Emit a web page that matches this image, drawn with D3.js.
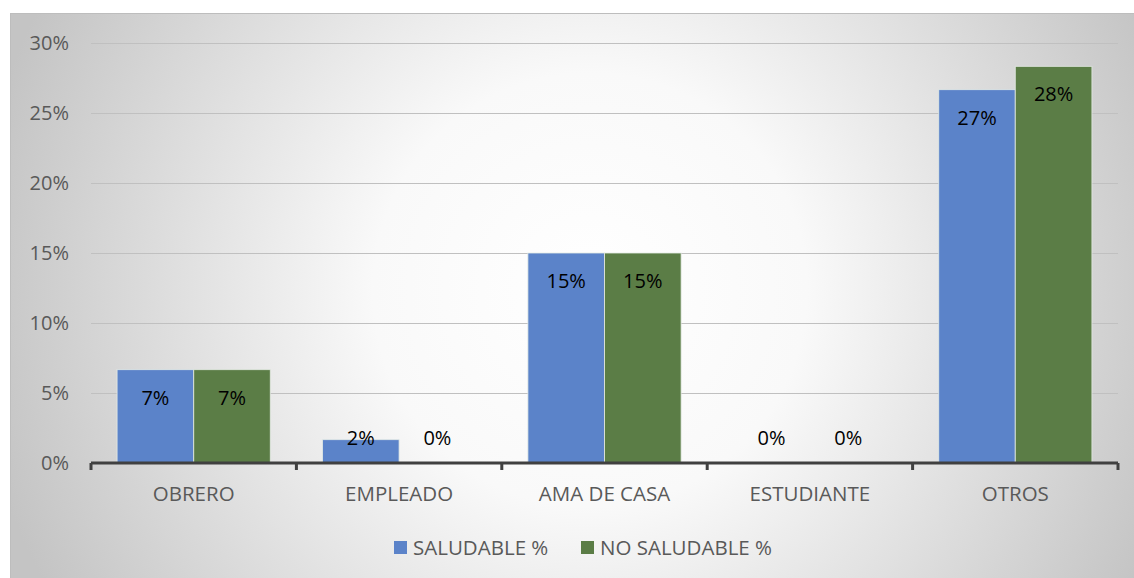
<!DOCTYPE html>
<html><head><meta charset="utf-8">
<script src="https://cdn.jsdelivr.net/npm/d3@7"></script>
<style>body{margin:0;background:#fff;}svg{display:block;}</style>
</head><body>
<script>
const categories = ["OBRERO","EMPLEADO","AMA DE CASA","ESTUDIANTE","OTROS"];
const seriesNames = ["SALUDABLE %","NO SALUDABLE %"];
const saludable = [6.67, 1.67, 15, 0, 26.67];
const noSaludable = [6.67, 0, 15, 0, 28.33];
const yTicks = [0,5,10,15,20,25,30];
const colors = ["#5B83C9","#5B7D46"];

(function(){
const W=1134,H=578;
const FONT="'Open Sans', sans-serif";
const svg=d3.select("body").append("svg").attr("width",W).attr("height",H);
const defs=svg.append("defs");
const rg=defs.append("radialGradient").attr("id","bg").attr("gradientUnits","userSpaceOnUse")
  .attr("cx",590).attr("cy",290).attr("r",620);
rg.append("stop").attr("offset","0%").attr("stop-color","#ffffff");
rg.append("stop").attr("offset","35%").attr("stop-color","#f9f9f9");
rg.append("stop").attr("offset","100%").attr("stop-color","#c4c4c4");
svg.append("rect").attr("x",10.5).attr("y",13.5).attr("width",W).attr("height",H)
  .attr("fill","url(#bg)").attr("stroke","#bdbdbd").attr("stroke-width",1);

const pl=91,pr=1118,pt=43,pb=463;
const y=d3.scaleLinear().domain([0,30]).range([pb,pt]);
const x0=d3.scaleBand().domain(categories).range([pl,pr]).padding(0);
const bw=x0.bandwidth();
const x1=d3.scaleBand().domain(seriesNames).range([bw*0.127,bw*0.873]).padding(0);

svg.append("g").selectAll("line").data(yTicks.filter(d=>d>0)).join("line")
  .attr("x1",pl).attr("x2",pr).attr("y1",d=>Math.round(y(d))+0.5).attr("y2",d=>Math.round(y(d))+0.5)
  .attr("stroke","#c0c0c0").attr("stroke-width",1);

svg.append("g").selectAll("text").data(yTicks).join("text")
  .attr("x",69).attr("y",d=>y(d)).attr("dy","0.35em").attr("text-anchor","end")
  .attr("font-family",FONT).attr("font-size",20).attr("fill","#595959")
  .text(d=>d+"%");

const data=categories.map((c,i)=>({c,vals:[{s:seriesNames[0],v:saludable[i],k:0},{s:seriesNames[1],v:noSaludable[i],k:1}]}));
const g=svg.append("g").selectAll("g").data(data).join("g").attr("transform",d=>`translate(${x0(d.c)},0)`);
g.selectAll("rect").data(d=>d.vals.filter(v=>v.v>0)).join("rect")
  .attr("x",d=>x1(d.s)).attr("width",x1.bandwidth()).attr("y",d=>y(d.v)).attr("height",d=>pb-y(d.v))
  .attr("fill",d=>colors[d.k]).attr("stroke","#e6ece6").attr("stroke-width",1).attr("stroke-opacity",0.8);
g.selectAll("text").data(d=>d.vals).join("text")
  .attr("x",d=>x1(d.s)+x1.bandwidth()/2)
  .attr("y",d=>Math.min(y(d.v)+28,pb-25)).attr("dy","0.35em").attr("text-anchor","middle")
  .attr("font-family",FONT).attr("font-size",20).attr("fill","#000")
  .text(d=>Math.round(d.v)+"%");

const axG=svg.append("g").attr("transform",`translate(0,${pb})`);
axG.append("line").attr("x1",pl).attr("x2",pr).attr("y1",0).attr("y2",0).attr("stroke","#404040").attr("stroke-width",3);
const bounds=[...categories.map(c=>x0(c)),pr];
axG.selectAll("line.tk").data(bounds).join("line").attr("class","tk")
  .attr("x1",d=>d).attr("x2",d=>d).attr("y1",0).attr("y2",7).attr("stroke","#404040").attr("stroke-width",3);
axG.selectAll("text").data(categories).join("text")
  .attr("x",d=>x0(d)+bw/2).attr("y",31).attr("dy","0.35em").attr("text-anchor","middle")
  .attr("font-family",FONT).attr("font-size",20.5).attr("fill","#595959").text(d=>d);

const leg=svg.append("g");
const legX=[394,581];
seriesNames.forEach((s,i)=>{
  leg.append("rect").attr("x",legX[i]).attr("y",541).attr("width",13).attr("height",13).attr("fill",colors[i]);
  leg.append("text").attr("x",legX[i]+19).attr("y",548).attr("dy","0.35em")
    .attr("font-family",FONT).attr("font-size",20.5).attr("fill","#595959").text(s);
});
})();
</script>
</body></html>
